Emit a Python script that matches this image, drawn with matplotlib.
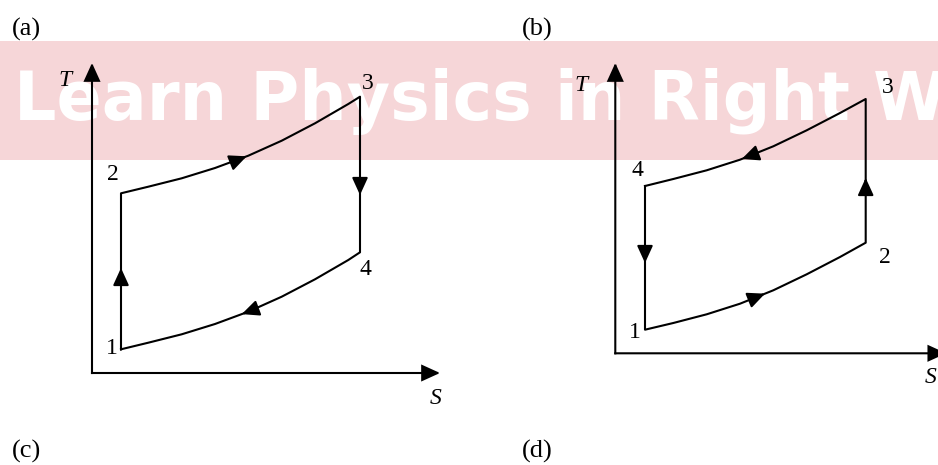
import numpy as np
import matplotlib
matplotlib.use("Agg")
import matplotlib.pyplot as plt
from matplotlib.patches import FancyArrowPatch, Rectangle, ArrowStyle

# ---- cycle (a): heat added along the upper isobar 2->3 ----
a_s_iso = [2.9, 5.63, 8.97, 12.3, 15.63, 18.97, 22.3, 25.63, 26.8]
a_T_high = [17.97, 18.63, 19.47, 20.5, 21.73, 23.23, 24.97, 26.9, 27.63]  # 2 -> 3
a_T_low = [2.37, 3.03, 3.87, 4.9, 6.13, 7.63, 9.37, 11.3, 12.07]          # 1 -> 4 (traversed 4 -> 1)
a_S_max, a_T_max = 34.8, 31.0

# ---- cycle (b): reversed cycle 1->2->3->4 ----
b_s_iso = [2.97, 5.8, 9.14, 12.47, 15.8, 19.14, 22.47, 25.04]
b_T_high = [16.73, 17.43, 18.3, 19.36, 20.7, 22.3, 24.03, 25.43]  # 4 -> 3 (traversed 3 -> 4)
b_T_low = [2.36, 3.03, 3.9, 4.96, 6.3, 7.9, 9.63, 11.06]          # 1 -> 2
b_S_max, b_T_max = 33.1, 29.03

state_labels = ["1", "2", "3", "4"]
panel_labels = ["(a)", "(b)", "(c)", "(d)"]
watermark = "Learn Physics in Right Way"

W, H = 938, 465
fig = plt.figure(figsize=(W / 100, H / 100), dpi=100)
fig.patch.set_facecolor("white")

LW = 1.5
SERIF = ["Liberation Serif", "DejaVu Serif"]


def fx(px):
    return px / W


def fy(py):
    return 1 - py / H


# watermark band, kept beneath the diagrams
fig.patches.append(Rectangle((0, fy(160)), 1, (160 - 41) / H, transform=fig.transFigure,
                             facecolor="#f6d6d8", edgecolor="none", zorder=-2))
fig.text(fx(14), fy(120), watermark, fontsize=48, fontweight="bold",
         family="DejaVu Sans", color="white", ha="left", va="baseline", zorder=-1)

# panel labels
for lab, (px, py) in zip(panel_labels, [(26.5, 29), (537.5, 29), (26.5, 451), (537.5, 451)]):
    fig.text(fx(px), fy(py), lab, fontsize=19, family=SERIF, ha="center", va="center")


def arrow(ax, tip, direction):
    d = np.asarray(direction, float)
    d = d / np.hypot(*d)
    tail = np.asarray(tip) - d * 0.5
    style = ArrowStyle("-|>", head_length=10.5, head_width=4.8)
    ax.add_patch(FancyArrowPatch(tail, tip, arrowstyle=style, mutation_scale=1,
                                 color="black", lw=LW, shrinkA=0, shrinkB=0,
                                 zorder=5, clip_on=False))


def curve_arrow(ax, s_arr, T_arr, s_tip, forward=True):
    s_arr = np.asarray(s_arr)
    T_arr = np.asarray(T_arr)
    t = np.interp(s_tip, s_arr, T_arr)
    t0 = np.interp(s_tip - 0.6, s_arr, T_arr)
    t1 = np.interp(s_tip + 0.6, s_arr, T_arr)
    d = np.array([1.2, t1 - t0])
    if not forward:
        d = -d
    arrow(ax, (s_tip, t), d)


def axes_arrows(ax, smax, tmax):
    style = ArrowStyle("-|>", head_length=11, head_width=5)
    for end in [(0, tmax), (smax, 0)]:
        ax.add_patch(FancyArrowPatch((0, 0), end, arrowstyle=style, mutation_scale=1,
                                     color="black", lw=LW, shrinkA=0, shrinkB=0,
                                     joinstyle="miter", capstyle="projecting",
                                     clip_on=False, zorder=4))


def make_axes(x0, y0, smax, tmax):
    ax = fig.add_axes([fx(x0), fy(y0), smax * 10 / W, tmax * 10 / H])
    ax.set_xlim(0, smax)
    ax.set_ylim(0, tmax)
    ax.axis("off")
    ax.patch.set_alpha(0)
    return ax


# ---------------- panel (a) ----------------
ax = make_axes(92, 373, a_S_max, a_T_max)
axes_arrows(ax, a_S_max, a_T_max)
s_cycle = [a_s_iso[0]] + a_s_iso + a_s_iso[::-1]
T_cycle = [a_T_low[0]] + a_T_high + a_T_low[::-1]
ax.plot(s_cycle, T_cycle, color="black", lw=LW, solid_joinstyle="round", zorder=3)
arrow(ax, (a_s_iso[0], 10.5), (0, 1))
curve_arrow(ax, a_s_iso, a_T_high, 15.47, forward=True)
arrow(ax, (a_s_iso[-1], 17.8), (0, -1))
curve_arrow(ax, a_s_iso, a_T_low, 14.97, forward=False)
ax.text(-2.7, 31.0 - 1.7, "T", fontsize=17, style="italic", family=SERIF, ha="center", va="center")
ax.text(34.4, -2.6, "S", fontsize=17, style="italic", family=SERIF, ha="center", va="center")
a_pts = {"1": (1.95, 2.4), "2": (2.1, 19.85), "3": (27.55, 28.95), "4": (27.35, 10.35)}
for lab in state_labels:
    ax.text(*a_pts[lab], lab, fontsize=17, family=SERIF, ha="center", va="center")

# ---------------- panel (b) ----------------
ax = make_axes(615.3, 353.3, b_S_max, b_T_max)
axes_arrows(ax, b_S_max, b_T_max)
s_cycle = [b_s_iso[0]] + b_s_iso + b_s_iso[::-1]
T_cycle = [b_T_high[0]] + b_T_low + b_T_high[::-1]
ax.plot(s_cycle, T_cycle, color="black", lw=LW, solid_joinstyle="round", zorder=3)
arrow(ax, (b_s_iso[0], 9.03), (0, -1))
curve_arrow(ax, b_s_iso, b_T_low, 14.97, forward=True)
arrow(ax, (b_s_iso[-1], 17.53), (0, 1))
curve_arrow(ax, b_s_iso, b_T_high, 12.64, forward=False)
ax.text(-3.4, 29.03 - 2.3, "T", fontsize=17, style="italic", family=SERIF, ha="center", va="center")
ax.text(31.5, -2.4, "S", fontsize=17, style="italic", family=SERIF, ha="center", va="center")
b_pts = {"1": (2.0, 2.1), "2": (27.0, 9.6), "3": (27.2, 26.6), "4": (2.2, 18.3)}
for lab in state_labels:
    ax.text(*b_pts[lab], lab, fontsize=17, family=SERIF, ha="center", va="center")

fig.savefig("out.png", dpi=100)
